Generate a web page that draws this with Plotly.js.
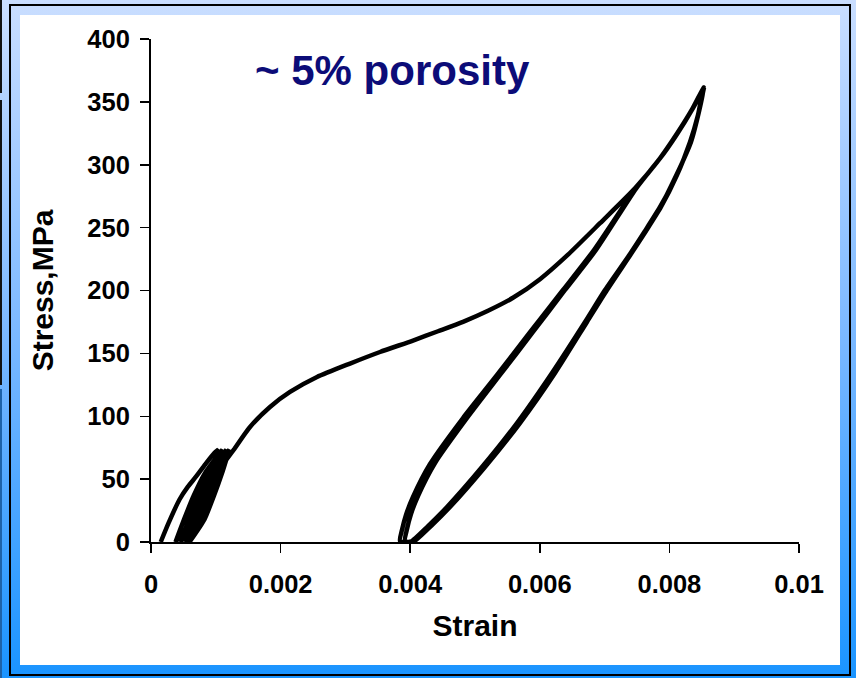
<!DOCTYPE html>
<html>
<head>
<meta charset="utf-8">
<script src="https://cdn.plot.ly/plotly-3.0.1.min.js"></script>
<style>
  html, body { margin: 0; padding: 0; }
  body {
    width: 856px; height: 678px; position: relative; overflow: hidden;
    background: linear-gradient(to bottom, #cadeff 0%, #7ab8ff 50%, #1a94ff 100%);
  }
  #edge1 { position: absolute; left: 0; top: 0; width: 2px; height: 93px; background: #111; }
  #edge2 { position: absolute; left: 0; top: 100px; width: 2px; height: 285px; background: #111; }
  #edge3 { position: absolute; left: 0; top: 389px; width: 2px; height: 289px; background: #1d62a8; }
  #border { position: absolute; left: 9px; top: 4px; width: 842px; height: 672px; box-sizing: border-box; border: 2px solid #000; }
  #white { position: absolute; left: 20px; top: 15px; width: 820px; height: 650px; background: #fff; }
  #chart { position: absolute; left: 0; top: 0; width: 856px; height: 678px; }
</style>
</head>
<body>
<div id="edge1"></div><div id="edge2"></div><div id="edge3"></div>
<div id="border"></div>
<div id="white"></div>
<div id="chart"></div>
<script>
// [strain, stress MPa] pairs, in test order
const initialLoading = [[0.00015,0],[0.00027,15],[0.00044,33.8],[0.00057,44],[0.00070,52.3],[0.00084,62],[0.00098,70.9],[0.001041,73.5]];

const smallUnload1 = [[0.001041,73.5],[0.000920,55],[0.000785,37],[0.000625,18],[0.000378,0]];
const smallReload1 = [[0.000378,0],[0.000510,18],[0.000660,37],[0.000835,55],[0.001103,73.5]];
const smallUnload2 = [[0.001103,73.5],[0.000985,55],[0.000853,37],[0.000697,18],[0.000455,0]];
const smallReload2 = [[0.000455,0],[0.000585,18],[0.000730,37],[0.000902,55],[0.001164,73.5]];
const smallUnload3 = [[0.001164,73.5],[0.001050,55],[0.000921,37],[0.000768,18],[0.000532,0]];
const smallReload3 = [[0.000532,0],[0.000655,18],[0.000795,37],[0.000960,55],[0.001210,73.5]];
const smallUnload4 = [[0.001210,73.5],[0.001098,55],[0.000973,37],[0.000825,18],[0.000594,0]];
const smallReload4 = [[0.000594,0],[0.000718,18],[0.000858,37],[0.001022,55],[0.001281,73.6]];

const mainLoading = [[0.001281,73.6],[0.001528,91.5],[0.001836,107.4],[0.002145,119.3],[0.002562,131.2],
  [0.003071,141.9],[0.003534,151.1],[0.004043,160.2],[0.004429,167.6],[0.004815,175.1],[0.005201,183.9],
  [0.005586,194.2],[0.006003,209.0],[0.006435,228.5],[0.006929,253.5],[0.007469,281.2],[0.007855,305.0],
  [0.008117,324.3],[0.008364,345.1],[0.008534,361.4]];

const bigUnload1 = [[0.008534,361.4],[0.008441,339.6],[0.008318,318.1],[0.008117,291.8],[0.007855,266.4],
  [0.007623,247.3],[0.007392,229.0],[0.007006,200.4],[0.006698,175.0],[0.006188,134.4],[0.005648,94.6],
  [0.005108,59.6],[0.004568,27.8],[0.004275,12.7],[0.003997,0]];

const bigReload1 = [[0.003843,0.8],[0.003873,9.5],[0.003935,21.5],[0.004043,35.8],[0.004306,62.0],[0.004815,98.6],
  [0.005340,132.8],[0.005849,167.0],[0.006358,200.4],[0.006836,232.2],[0.007469,280.5],[0.007855,305.0],
  [0.008117,324.5],[0.008364,345.1],[0.008534,361.4]];

const bigUnload2 = [[0.008527,361.2],[0.008441,339.6],[0.008318,318.1],[0.008117,291.8],[0.007870,266.4],
  [0.007639,247.3],[0.007407,229.0],[0.007037,200.4],[0.006728,175.0],[0.006235,134.4],[0.005694,94.6],
  [0.005154,59.6],[0.004614,27.8],[0.004321,12.7],[0.004043,0]];

const bigReload2 = [[0.003920,0.8],[0.003951,10.3],[0.004012,22.3],[0.004120,36.6],[0.004383,62.8],[0.004877,98.6],
  [0.005386,132.8],[0.005895,167.0],[0.006389,200.4],[0.006867,232.2],[0.007485,281.0],[0.007860,305.5],
  [0.008120,325],[0.008360,345],[0.008527,361.2]];

const bigUnload3 = [[0.008534,361.4],[0.008333,318.1],[0.007863,266.4],[0.007400,229.0],[0.007022,200.4],
  [0.006713,175.0],[0.006204,134.4],[0.005679,94.6],[0.005123,59.6],[0.004583,27.8],[0.004290,12.7],[0.004012,0]];

const xTickVals = [0, 0.002, 0.004, 0.006, 0.008, 0.01];
const xTickText = ['0', '0.002', '0.004', '0.006', '0.008', '0.01'];
const yTickVals = [0, 50, 100, 150, 200, 250, 300, 350, 400];
const annotationText = '~ 5% porosity';

const segments = [initialLoading, smallUnload1, smallReload1, smallUnload2, smallReload2, smallUnload3, smallReload3,
  smallUnload4, smallReload4, mainLoading, bigUnload1, bigReload1, bigUnload2, bigReload2, bigUnload3];
const xs = [], ys = [];
segments.forEach(seg => seg.forEach(p => { xs.push(p[0]); ys.push(p[1]); }));

const FONT = 'Liberation Sans, Arial, sans-serif';

Plotly.newPlot('chart', [{
  x: xs, y: ys, type: 'scatter', mode: 'lines',
  line: { color: '#000', width: 4.5, shape: 'spline', smoothing: 0.6 },
  hoverinfo: 'skip', showlegend: false
}], {
  width: 856, height: 678,
  margin: { l: 151, r: 57, t: 39, b: 136, pad: 0 },
  paper_bgcolor: 'rgba(0,0,0,0)', plot_bgcolor: 'rgba(0,0,0,0)',
  showlegend: false,
  xaxis: {
    range: [0, 0.01], tickmode: 'array', tickvals: xTickVals, ticktext: xTickText,
    showgrid: false, zeroline: false, showline: true, linecolor: '#000', linewidth: 2,
    ticks: 'outside', ticklen: 9, tickwidth: 1.5, tickcolor: '#000', ticklabelstandoff: 9,
    tickfont: { family: FONT, size: 25.5, color: '#000', weight: 'bold' },
    title: { text: 'Strain', font: { family: FONT, size: 30, color: '#000', weight: 'bold' }, standoff: 18 },
    automargin: false, fixedrange: true
  },
  yaxis: {
    range: [0, 400], tickmode: 'array', tickvals: yTickVals,
    showgrid: false, zeroline: false, showline: true, linecolor: '#000', linewidth: 2,
    ticks: 'outside', ticklen: 9, tickwidth: 1.5, tickcolor: '#000', ticklabelstandoff: 5,
    tickfont: { family: FONT, size: 25.5, color: '#000', weight: 'bold' },
    title: { text: 'Stress,MPa', font: { family: FONT, size: 30, color: '#000', weight: 'bold' }, standoff: 25 },
    automargin: false, fixedrange: true
  },
  annotations: [{
    text: annotationText, xref: 'x', yref: 'y', x: 0.00157, y: 375,
    xanchor: 'left', yanchor: 'middle', showarrow: false,
    font: { family: FONT, size: 42, color: '#0c0c78', weight: 'bold' }
  }]
}, { staticPlot: true, displayModeBar: false });
</script>
</body>
</html>
